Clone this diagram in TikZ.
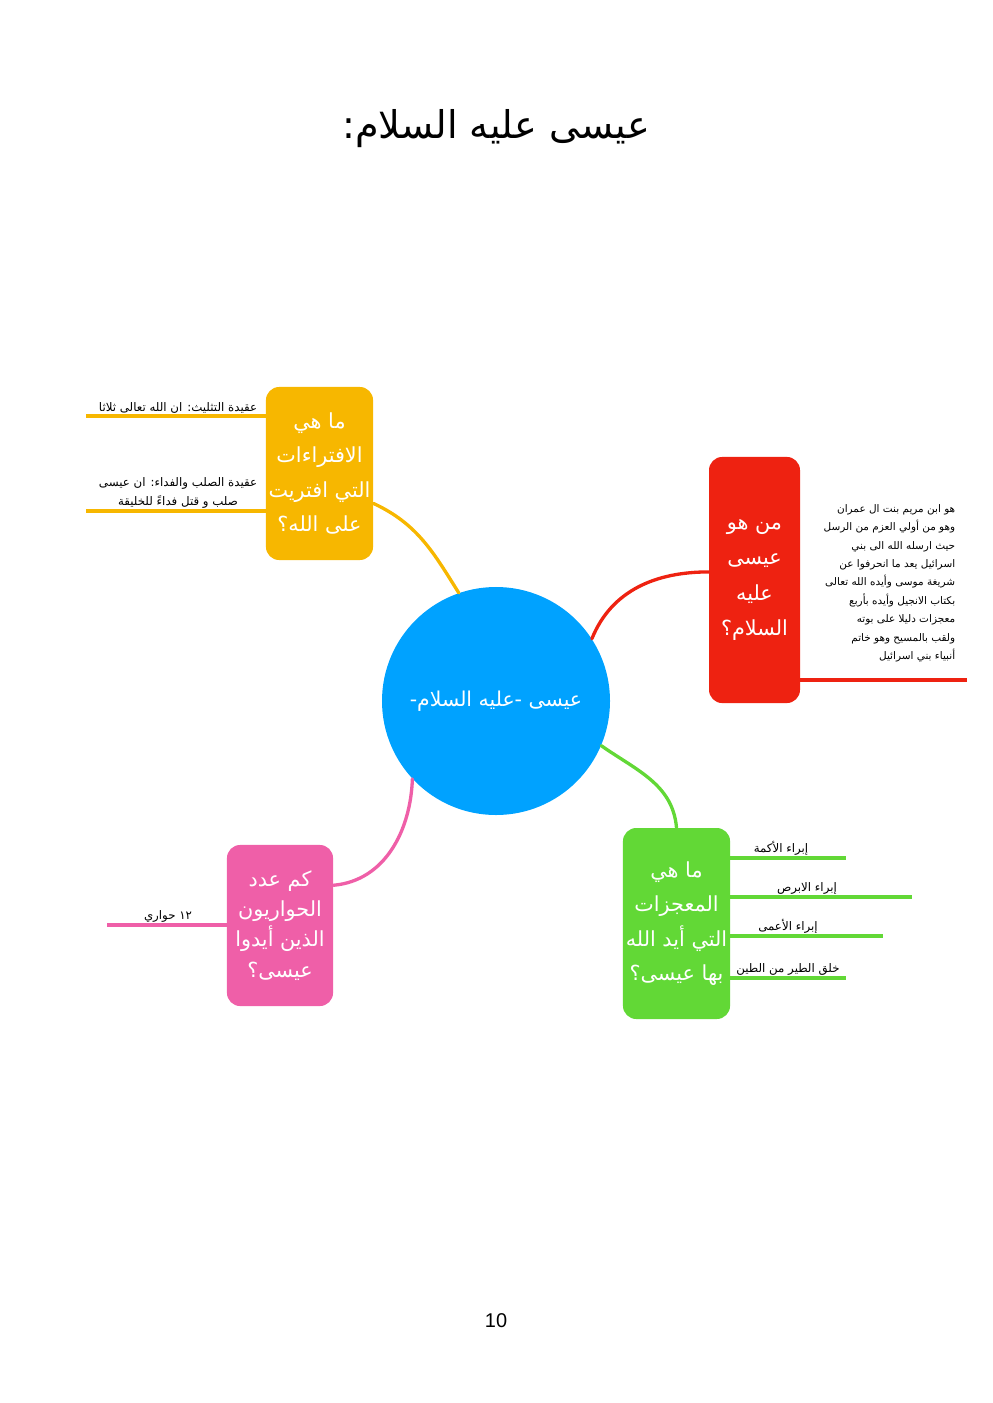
\documentclass[tikz,border=0pt]{standalone}
\usepackage{fontspec}
\newfontfamily\arabicfont[Script=Arabic]{DejaVu Sans}
\newfontfamily\pagefont{Liberation Sans}
\TeXXeTstate=1
\newcommand{\artxt}[1]{\beginR #1\endR}
\definecolor{mapblue}{RGB}{0,162,255}
\definecolor{mapyellow}{RGB}{247,183,0}
\definecolor{mapred}{RGB}{238,34,17}
\definecolor{mapgreen}{RGB}{98,216,54}
\definecolor{mappink}{RGB}{239,95,168}
\begin{document}
\begin{tikzpicture}[x=0.021169cm, y=-0.021169cm,
  topic/.style={fill=#1, rounded corners=8pt, text=white, align=center,
    font=\arabicfont\fontsize{12.5}{20.8}\selectfont, inner sep=1pt},
  leaf/.style={font=\arabicfont\fontsize{7.1}{11.1}\selectfont, inner sep=1.5pt},
  branch/.style={line width=2pt, draw=#1, line cap=round},
  twig/.style={line width=2.4pt, draw=#1}]
\useasboundingbox (0,0) rectangle (992,1403);

% Title
\node[font=\arabicfont\fontsize{23}{28}\selectfont] (title) at (496,129) {\artxt{عيسى عليه السلام:}};

% Centre
\node[circle, fill=mapblue, minimum size=137.3pt, inner sep=0pt, text=white,
  font=\arabicfont\fontsize{12.3}{16}\selectfont] (cen) at (496,701) {\artxt{عيسى -عليه السلام-}};

% Topics
\node[topic=mapyellow, minimum width=64.5pt, minimum height=104.2pt] (ybox) at (319.5,473.5)
  {\artxt{ما هي}\\\artxt{الافتراءات}\\\artxt{التي افتريت}\\\artxt{على الله؟}};
\node[topic=mapred, font=\arabicfont\fontsize{12.5}{21.4}\selectfont,
  minimum width=54.8pt, minimum height=148.2pt] (rbox) at (754.5,580)
  {\artxt{من هو}\\\artxt{عيسى}\\\artxt{عليه}\\\artxt{السلام؟}};
\node[topic=mapgreen, minimum width=64.5pt, minimum height=115pt] (gbox) at (676.5,923.5)
  {\artxt{ما هي}\\\artxt{المعجزات}\\\artxt{التي أيد الله}\\\artxt{بها عيسى؟}};
\node[topic=mappink, font=\arabicfont\fontsize{12.5}{18.2}\selectfont,
  minimum width=63.9pt, minimum height=97pt] (pbox) at (280,925.5)
  {\artxt{كم عدد}\\\artxt{الحواريون}\\\artxt{الذين أيدوا}\\\artxt{عيسى؟}};

% Branches
\draw[branch=mapyellow] (ybox.-29) to[out=-25,in=122] (cen.109);
\draw[branch=mapred] (cen.33) to[out=68,in=180] (rbox.170);
\draw[branch=mapgreen] (cen.-23) to[out=-35,in=95] (gbox.north);
\draw[branch=mappink] (cen.223) to[out=-92,in=5] (pbox.37);

% Leaves: yellow
\coordinate (y1) at (86,416);
\coordinate (y2) at (86,511);
\draw[twig=mapyellow] (ybox.west |- y1) -- (y1);
\draw[twig=mapyellow] (ybox.west |- y2) -- (y2);
\node[leaf, anchor=south] (yl1) at (178,416) {\artxt{عقيدة التثليث: ان الله تعالى ثلاثا}};
\node[leaf, anchor=south, align=center] (yl2) at (178,511)
  {\artxt{عقيدة الصلب والفداء: ان عيسى}\\\artxt{صلب و قتل فداءً للخليقة}};

% Leaves: red
\coordinate (r1) at (967,680);
\draw[twig=mapred] (rbox.east |- r1) -- (r1);
\node[leaf, font=\arabicfont\fontsize{6.3}{11.1}\selectfont, anchor=south east, align=right] (rl1) at (958,665)
  {\artxt{هو ابن مريم بنت ال عمران}\\\artxt{وهو من أولي العزم من الرسل}\\\artxt{حيث ارسله الله الى بني}\\
   \artxt{اسرائيل يعد ما انحرفوا عن}\\\artxt{شريغة موسى وأيده الله تعالى}\\\artxt{بكتاب الانجيل وأيده بأربع}\\
   \artxt{معجزات دليلا على بوته}\\\artxt{ولقب بالمسيح وهو خاتم}\\\artxt{أنبياء بني اسرائيل}};

% Leaves: green
\coordinate (g1) at (846,858);
\coordinate (g2) at (912,897);
\coordinate (g3) at (883,936);
\coordinate (g4) at (846,978);
\foreach \g in {g1,g2,g3,g4}
  \draw[twig=mapgreen] (gbox.east |- \g) -- (\g);
\node[leaf, anchor=south] (gl1) at (781,858) {\artxt{إبراء الأكمة}};
\node[leaf, anchor=south] (gl2) at (807,897) {\artxt{إبراء الابرص}};
\node[leaf, anchor=south] (gl3) at (788,936) {\artxt{إبراء الأعمى}};
\node[leaf, anchor=south] (gl4) at (788,978) {\artxt{خلق الطير من الطين}};

% Leaves: pink
\coordinate (p1) at (107,925);
\draw[twig=mappink] (pbox.west |- p1) -- (p1);
\node[leaf, anchor=south] (pl1) at (168,925) {\artxt{١٢ حواري}};

% Page number
\node[font=\pagefont\fontsize{12}{14}\selectfont] (page) at (496,1321) {10};
\end{tikzpicture}
\end{document}
